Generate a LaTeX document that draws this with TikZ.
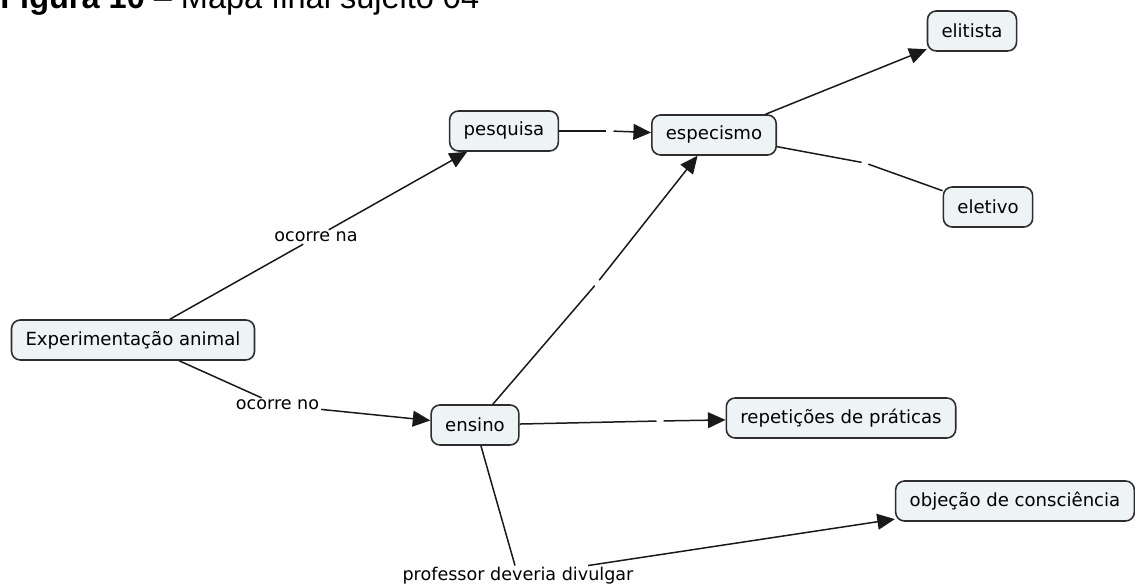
\documentclass[tikz,border=0pt]{standalone}
\usepackage{fontspec}
\setmainfont{DejaVu Sans}
\newfontfamily\titlefont{Liberation Sans}
\usetikzlibrary{arrows.meta}

\definecolor{conceptfill}{RGB}{238,243,245}
\definecolor{conceptline}{RGB}{45,45,45}

\tikzset{
  concept/.style={draw=conceptline,fill=conceptfill,rounded corners=5pt,line width=0.9pt,
    inner xsep=8pt,minimum height=0.8cm,font=\fontsize{10.3}{12}\selectfont},
  linkword/.style={inner sep=1pt,font=\fontsize{10}{12}\selectfont},
  link/.style={line width=0.85pt,draw=black!90},
  linkarrow/.style={link,-{Triangle[length=10pt,width=9pt]}}
}

\begin{document}
\begin{tikzpicture}

\useasboundingbox (0,0) rectangle (22.7,11.7);

%% - Title (cut at the top)
%% - --------------------------------------
\node[anchor=base west,inner sep=0pt,font=\titlefont\fontsize{18.5}{20}\selectfont] (title) at (0.0,11.53) {\textbf{Figura 10} – Mapa final sujeito 04};

%% - Draw concepts
%% - --------------------------------------
\node[concept] (exp) at (2.66,4.9) {Experimentação animal};
\node[concept] (pesquisa) at (10.08,9.08) {pesquisa};
\node[concept] (ensino) at (9.5,3.2) {ensino};
\node[concept] (especismo) at (14.28,9.0) {especismo};
\node[concept] (elitista) at (19.44,11.08) {elitista};
\node[concept] (eletivo) at (19.76,7.56) {eletivo};
\node[concept] (repeticoes) at (16.82,3.34) {repetições de práticas};
\node[concept] (objecao) at (20.3,1.68) {objeção de consciência};

%% - Draw link words
%% - --------------------------------------
\node[linkword] (ocorrena) at (6.32,6.96) {ocorre na};
\node[linkword] (ocorreno) at (5.55,3.6) {ocorre no};
\node[linkword,anchor=base] (professor) at (10.36,0.08) {professor deveria divulgar};

%% - Empty link points
%% - --------------------------------------
\coordinate (gapA) at (12.2,9.08);
\coordinate (gapB) at (17.3,8.44);
\coordinate (gapC) at (11.94,6.04);
\coordinate (gapD) at (13.2,3.28);

%% - Draw connectors
%% - --------------------------------------
\draw[link] (exp) -- (ocorrena);
\draw[linkarrow] (ocorrena) -- (pesquisa);
\draw[link] (exp) -- (ocorreno);
\draw[linkarrow] (ocorreno) -- (ensino);

\draw[link,shorten >=2pt] (pesquisa) -- (gapA);
\draw[linkarrow,shorten <=2pt] (gapA) -- (especismo);
\draw[linkarrow] (especismo) -- (elitista);
\draw[link,shorten >=2pt] (especismo) -- (gapB);
\draw[link,shorten <=2pt] (gapB) -- (eletivo);

\draw[link,shorten >=2pt] (ensino) -- (gapC);
\draw[linkarrow,shorten <=2pt] (gapC) -- (especismo);
\draw[link,shorten >=2pt] (ensino) -- (gapD);
\draw[linkarrow,shorten <=2pt] (gapD) -- (repeticoes);
\draw[link] (ensino) -- (professor);
\draw[linkarrow] (professor) -- (objecao);

\end{tikzpicture}
\end{document}
